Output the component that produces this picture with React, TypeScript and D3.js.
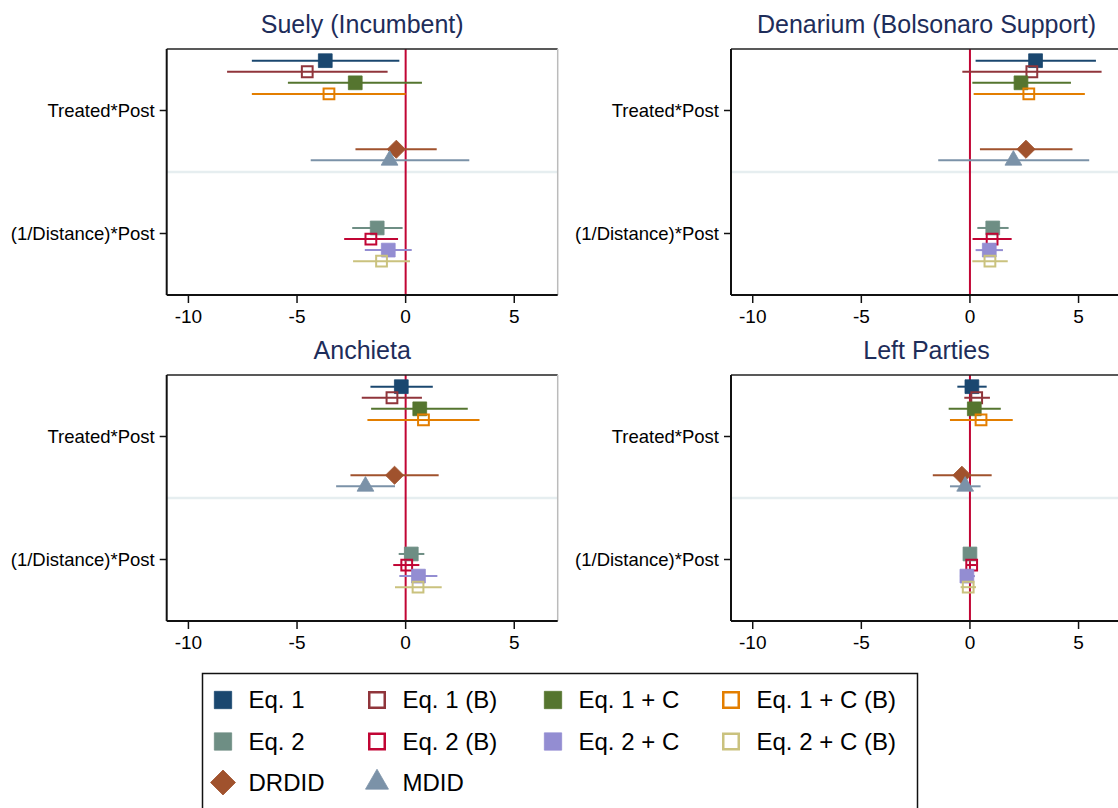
import React from 'react';
import * as d3 from 'd3';

// series (models) in coefplot order
const seriesNames = ['Eq. 1', 'Eq. 1 (B)', 'Eq. 1 + C', 'Eq. 1 + C (B)', 'Eq. 2', 'Eq. 2 (B)', 'Eq. 2 + C', 'Eq. 2 + C (B)', 'DRDID', 'MDID'];
const seriesColors = ['#1a476f', '#90353b', '#55752f', '#e37e00', '#6e8e84', '#c10534', '#938dd2', '#cac27e', '#a0522d', '#7b92a8'];
const seriesSymbols = ['square', 'hollow', 'square', 'hollow', 'square', 'hollow', 'square', 'hollow', 'diamond', 'triangle'];
// which coefficient each series estimates (0 = Treated*Post, 1 = (1/Distance)*Post)
const seriesCoef = [0, 0, 0, 0, 1, 1, 1, 1, 0, 0];
const coefLabels = ['Treated*Post', '(1/Distance)*Post'];

const panelTitles = ['Suely (Incumbent)', 'Denarium (Bolsonaro Support)', 'Anchieta', 'Left Parties'];

const suelyEst = [-3.70, -4.53, -2.32, -3.53, -1.31, -1.60, -0.80, -1.11, -0.43, -0.74];
const suelyLo = [-7.08, -8.22, -5.42, -7.08, -2.46, -2.83, -1.88, -2.42, -2.31, -4.37];
const suelyHi = [-0.29, -0.83, 0.75, 0.0, -0.14, -0.35, 0.28, 0.20, 1.43, 2.93];

const denariumEst = [3.02, 2.85, 2.35, 2.71, 1.05, 1.02, 0.89, 0.92, 2.58, 2.0];
const denariumLo = [0.26, -0.35, 0.11, 0.17, 0.34, 0.12, 0.26, 0.11, 0.46, -1.46];
const denariumHi = [5.80, 6.06, 4.65, 5.29, 1.78, 1.92, 1.52, 1.74, 4.72, 5.49];

const anchietaEst = [-0.20, -0.63, 0.65, 0.82, 0.26, 0.05, 0.59, 0.57, -0.51, -1.85];
const anchietaLo = [-1.62, -2.02, -1.59, -1.76, -0.32, -0.57, -0.29, -0.49, -2.54, -3.20];
const anchietaHi = [1.25, 0.75, 2.86, 3.40, 0.86, 0.63, 1.46, 1.66, 1.52, -0.49];

const leftEst = [0.09, 0.31, 0.20, 0.51, 0.0, 0.08, -0.14, -0.08, -0.37, -0.22];
const leftLo = [-0.58, -0.26, -0.98, -0.92, -0.15, -0.15, -0.46, -0.43, -1.71, -0.92];
const leftHi = [0.77, 0.92, 1.42, 1.97, 0.15, 0.28, 0.23, 0.28, 1.00, 0.49];

const xTicks = [-10, -5, 0, 5];

const FONT = '"Liberation Sans", Arial, sans-serif';
const PW = 391;
const PH = 246;

const plotSymbols: Record<string, string> = {
  square: d3.symbol(d3.symbolSquare, 190)() as string,
  hollow: d3.symbol(d3.symbolSquare, 116)() as string,
  diamond: d3.symbol(d3.symbolSquare, 165)() as string,
  triangle: d3.symbol(d3.symbolTriangle, 122)() as string,
};
const legendSymbols: Record<string, string> = {
  square: d3.symbol(d3.symbolSquare, 300)() as string,
  hollow: d3.symbol(d3.symbolSquare, 240)() as string,
  diamond: d3.symbol(d3.symbolSquare, 310)() as string,
  triangle: d3.symbol(d3.symbolTriangle, 229)() as string,
};

function Marker({ kind, color, cx, cy, paths, sw }: any) {
  const hollow = kind === 'hollow';
  const rot = kind === 'diamond' ? ' rotate(45)' : '';
  return (
    <path
      d={paths[kind]}
      transform={`translate(${cx},${cy})${rot}`}
      fill={hollow ? 'none' : color}
      stroke={color}
      strokeWidth={hollow ? sw : 0.8}
    />
  );
}

function Panel({ title, est, lo, hi, left, top }: any) {
  const x = d3.scaleLinear().domain([-11, 7]).range([left, left + PW]);
  const y = d3.scaleLinear().domain([0.5, 2.5]).range([top, top + PH]);
  const yPos = (i: number) => y(seriesCoef[i] + 1 + (i - 4.5) * 0.09);
  return (
    <g>
      <text x={(left + left + PW) / 2} y={top - 16} textAnchor="middle" fontSize={25} fill="#1e2d5a" fontFamily={FONT}>
        {title}
      </text>
      {/* separator between coefficient groups */}
      <line x1={left} x2={left + PW} y1={y(1.5)} y2={y(1.5)} stroke="#e6eef0" strokeWidth={2.5} />
      {/* zero line */}
      <line x1={x(0)} x2={x(0)} y1={top} y2={top + PH} stroke="#c10534" strokeWidth={2} />
      {est.map((_: number, i: number) => (
        <line key={'ci' + i} x1={x(lo[i])} x2={x(hi[i])} y1={yPos(i)} y2={yPos(i)} stroke={seriesColors[i]} strokeWidth={2} />
      ))}
      {est.map((v: number, i: number) => (
        <Marker key={'m' + i} kind={seriesSymbols[i]} color={seriesColors[i]} cx={x(v)} cy={yPos(i)} paths={plotSymbols} sw={2} />
      ))}
      {/* frame */}
      <line x1={left} x2={left + PW} y1={top} y2={top} stroke="#222" strokeWidth={1.5} />
      <line x1={left + PW} x2={left + PW} y1={top} y2={top + PH} stroke="#bbb" strokeWidth={1.5} />
      <line x1={left} x2={left} y1={top} y2={top + PH} stroke="#111" strokeWidth={2} />
      <line x1={left} x2={left + PW} y1={top + PH} y2={top + PH} stroke="#111" strokeWidth={2} />
      {xTicks.map((t) => (
        <g key={'xt' + t}>
          <line x1={x(t)} x2={x(t)} y1={top + PH} y2={top + PH + 8} stroke="#111" strokeWidth={1.5} />
          <text x={x(t)} y={top + PH + 28} textAnchor="middle" fontSize={19} fontFamily={FONT} fill="#000">
            {t < 0 ? '-' + Math.abs(t) : t}
          </text>
        </g>
      ))}
      {coefLabels.map((c, k) => (
        <g key={c}>
          <line x1={left - 7} x2={left} y1={y(k + 1)} y2={y(k + 1)} stroke="#111" strokeWidth={1.5} />
          <text x={left - 12} y={y(k + 1)} dy="0.35em" textAnchor="end" fontSize={18.5} fontFamily={FONT} fill="#000">
            {c}
          </text>
        </g>
      ))}
    </g>
  );
}

function Legend() {
  const colSym = [223, 377, 553, 731];
  const rowY = [700, 741.5, 782.5];
  return (
    <g>
      <rect x={202.5} y={673.5} width={715} height={200} fill="#fff" stroke="#111" strokeWidth={1.5} />
      {seriesNames.map((name, i) => {
        const cx = colSym[i % 4];
        const cy = rowY[Math.floor(i / 4)];
        return (
          <g key={name}>
            <Marker kind={seriesSymbols[i]} color={seriesColors[i]} cx={cx} cy={cy} paths={legendSymbols} sw={2.5} />
            <text x={cx + 25.5} y={cy} dy="0.35em" fontSize={24} fontFamily={FONT} fill="#000">
              {name}
            </text>
          </g>
        );
      })}
    </g>
  );
}

export default function App() {
  const panels = [
    { est: suelyEst, lo: suelyLo, hi: suelyHi },
    { est: denariumEst, lo: denariumLo, hi: denariumHi },
    { est: anchietaEst, lo: anchietaLo, hi: anchietaHi },
    { est: leftEst, lo: leftLo, hi: leftHi },
  ];
  const lefts = [166.7, 731];
  const tops = [49, 375];
  return (
    <svg width={1118} height={808} style={{ position: 'absolute', left: 0, top: 0, background: '#fff' }}>
      <rect width={1118} height={808} fill="#fff" />
      {panels.map((p, i) => (
        <Panel key={i} title={panelTitles[i]} est={p.est} lo={p.lo} hi={p.hi} left={lefts[i % 2]} top={tops[Math.floor(i / 2)]} />
      ))}
      <Legend />
    </svg>
  );
}
